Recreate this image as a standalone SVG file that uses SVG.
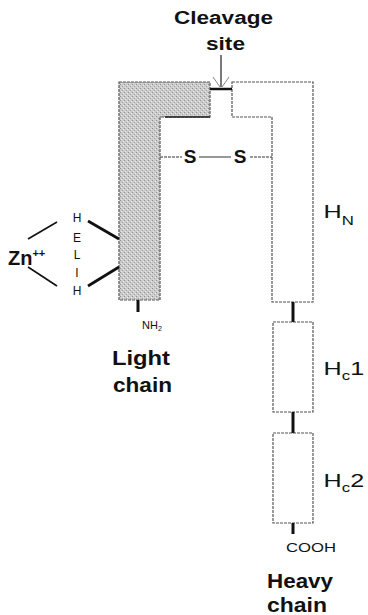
<svg xmlns="http://www.w3.org/2000/svg" width="368" height="615" viewBox="0 0 368 615">
<defs>
<style>
.box{stroke:#555;stroke-width:1.2;stroke-dasharray:3 1;}
.bold{font-family:"Liberation Sans",Arial,sans-serif;font-weight:bold;fill:#111;}
.reg{font-family:"Liberation Sans",Arial,sans-serif;fill:#111;}
.link{stroke:#111;stroke-width:3;}
.thin{stroke:#333;stroke-width:1;fill:none;}
</style>
<pattern id="stip" width="4" height="4" patternUnits="userSpaceOnUse">
<rect width="4" height="4" fill="#cbcbcb"/>
<rect x="0" y="0" width="1" height="1" fill="#8f8f8f"/>
<rect x="2" y="2" width="1" height="1" fill="#a0a0a0"/>
<rect x="3" y="1" width="1" height="1" fill="#ececec"/>
<rect x="1" y="3" width="1" height="1" fill="#e6e6e6"/>
</pattern>
</defs>
<rect width="368" height="615" fill="#fff"/>

<g id="light-chain">
<polygon class="box" points="119,82 210,82 210,117 160,117 160,300 119,300" fill="url(#stip)"/>
<line x1="165" y1="117" x2="210" y2="117" stroke="#222" stroke-width="1.5"/>
<line class="link" x1="138" y1="300" x2="138" y2="312" stroke-width="2.5"/>
<text class="reg" x="142" y="329" font-size="11">NH<tspan font-size="7" dy="2">2</tspan></text>
<text class="bold" x="112" y="365" font-size="20" textLength="58" lengthAdjust="spacingAndGlyphs">Light</text>
<text class="bold" x="113" y="392" font-size="20" textLength="59" lengthAdjust="spacingAndGlyphs">chain</text>
</g>

<g id="heavy-chain-hn">
<polygon class="box" points="232,82 313,82 313,302 272,302 272,117 232,117" fill="#fff"/>
<text class="reg" transform="translate(325,218) scale(1.4,1)" x="-1" y="0" font-size="18">H<tspan font-size="12" dy="7">N</tspan></text>
</g>

<g id="heavy-chain-hc1">
<rect class="box" x="273" y="322" width="40" height="90" fill="#fff"/>
<text class="reg" transform="translate(325,375) scale(1.4,1)" x="-1" y="0" font-size="18">H<tspan font-size="12" dy="5">c</tspan><tspan font-size="18" dy="-5">1</tspan></text>
</g>

<g id="heavy-chain-hc2">
<rect class="box" x="273" y="433" width="40" height="90" fill="#fff"/>
<text class="reg" transform="translate(325,487) scale(1.4,1)" x="-1" y="0" font-size="18">H<tspan font-size="12" dy="5">c</tspan><tspan font-size="18" dy="-5">2</tspan></text>
<text class="reg" x="286" y="552" font-size="12" textLength="50" lengthAdjust="spacingAndGlyphs">COOH</text>
<text class="bold" x="267" y="588" font-size="20" textLength="66" lengthAdjust="spacingAndGlyphs">Heavy</text>
<text class="bold" x="267" y="612" font-size="20" textLength="60" lengthAdjust="spacingAndGlyphs">chain</text>
</g>

<g id="cleavage-site">
<text class="bold" x="174" y="24" font-size="18" textLength="99" lengthAdjust="spacingAndGlyphs">Cleavage</text>
<text class="bold" x="206" y="50" font-size="18" textLength="39" lengthAdjust="spacingAndGlyphs">site</text>
</g>

<g id="zinc">
<text class="bold" x="8" y="265" font-size="20">Zn<tspan font-size="11" dy="-8">++</tspan></text>
<g class="reg" font-size="12" text-anchor="middle">
<text x="77" y="222">H</text>
<text x="77" y="242">E</text>
<text x="77" y="259">L</text>
<text x="77" y="277">I</text>
<text x="77" y="295">H</text>
</g>
</g>

<g id="connectors">
<line x1="221" y1="55" x2="221" y2="87" stroke="#222" stroke-width="1.2"/>
<line x1="213" y1="77" x2="220" y2="87" stroke="#666" stroke-width="0.8"/>
<line x1="229" y1="77" x2="222" y2="87" stroke="#666" stroke-width="0.8"/>
<line x1="210" y1="89" x2="232" y2="89" stroke="#111" stroke-width="2.5"/>
<line class="thin" x1="160" y1="157" x2="182" y2="157" stroke-dasharray="3 1"/>
<text class="bold" x="190" y="163" font-size="19" text-anchor="middle">S</text>
<line class="thin" x1="199" y1="157" x2="231" y2="157"/>
<text class="bold" x="240" y="163" font-size="19" text-anchor="middle">S</text>
<line class="thin" x1="250" y1="157" x2="272" y2="157" stroke-dasharray="3 1"/>
<line class="link" x1="293" y1="302" x2="293" y2="322"/>
<line class="link" x1="293" y1="412" x2="293" y2="433"/>
<line class="link" x1="293" y1="523" x2="293" y2="534" stroke-width="2.5"/>
<line x1="28" y1="239" x2="57" y2="222" stroke="#111" stroke-width="1.6"/>
<line x1="28" y1="267" x2="57" y2="286" stroke="#111" stroke-width="1.6"/>
<line x1="88" y1="221" x2="119" y2="239" stroke="#111" stroke-width="2.8"/>
<line x1="88" y1="286" x2="119" y2="267" stroke="#111" stroke-width="2.8"/>
</g>
</svg>
